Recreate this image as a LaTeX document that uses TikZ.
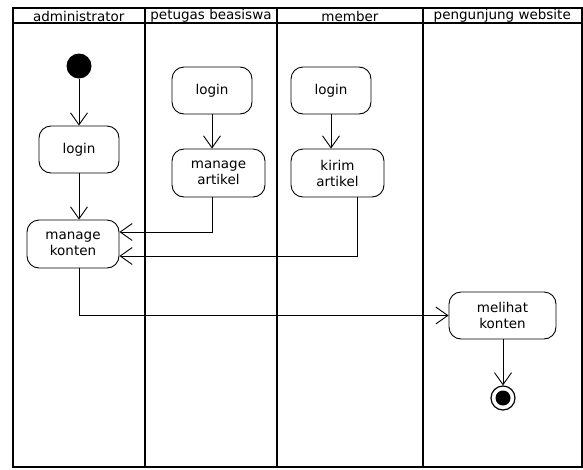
\documentclass[tikz,border=0pt]{standalone}
\usepackage{fontspec}
\setmainfont{DejaVu Sans}
\usetikzlibrary{arrows.meta}
\begin{document}
\begin{tikzpicture}[x=1pt,y=-1pt,
  lane/.style={line width=2pt},
  act/.style={draw, line width=0.9pt, rounded corners=12pt, align=center, inner sep=0pt,
    font=\fontsize{13.5}{16}\selectfont},
  flow/.style={line width=0.9pt, -{Straight Barb[length=12pt,width=17pt,line width=0.9pt]}},
  hdr/.style={font=\fontsize{13.5}{15}\selectfont, inner sep=0pt}]
\useasboundingbox (0,0) rectangle (583,469);
% swimlanes
\draw[lane] (12.5,7.5) rectangle (581.5,466.5);
\draw[lane] (12.5,23) -- (581.5,23);
\draw[lane] (145,7.5) -- (145,466.5);
\draw[lane] (277,7.5) -- (277,466.5);
\draw[lane] (423,7.5) -- (423,466.5);
\node[hdr] (h1) at (78.75,16) {administrator};
\node[hdr] (h2) at (211,16) {petugas beasiswa};
\node[hdr] (h3) at (350,16) {member};
\node[hdr] (h4) at (502.25,16) {pengunjung website};
% nodes
\node[circle, fill=black, minimum size=25pt, inner sep=0pt] (init) at (79,66) {};
\node[act, minimum width=80pt, minimum height=47pt] (login1) at (79,149.5) {login};
\node[act, minimum width=92pt, minimum height=48pt] (mk) at (73,244) {manage\\konten};
\node[act, minimum width=80pt, minimum height=47pt] (login2) at (212,90.5) {login};
\node[act, minimum width=93pt, minimum height=48pt] (ma) at (218.5,173) {manage\\artikel};
\node[act, minimum width=80pt, minimum height=47pt] (login3) at (331,90.5) {login};
\node[act, minimum width=93pt, minimum height=48pt] (ka) at (337.5,173) {kirim\\artikel};
\node[act, minimum width=107pt, minimum height=47pt] (mel) at (502.5,315.5) {melihat\\konten};
\node[circle, draw, line width=1.2pt, minimum size=24pt, inner sep=0pt] (fin) at (503,398) {};
\node[circle, fill=black, minimum size=15pt, inner sep=0pt] (fininner) at (fin.center) {};
% connectors
\draw[flow] (init) -- (login1);
\draw[flow] (login1.south) -- (login1.south |- mk.north);
\draw[flow] (login2.south) -- (login2.south |- ma.north);
\draw[flow] (login3.south) -- (login3.south |- ka.north);
\draw[flow] ([xshift=-6.5pt]ma.south) |- ([yshift=12pt]mk.east);
\draw[flow] ([xshift=20pt]ka.south) |- ([yshift=-12pt]mk.east);
\draw[flow] ([xshift=6pt]mk.south) |- (mel.west);
\draw[flow] (mel.south -| fin.north) -- (fin.north);
\end{tikzpicture}
\end{document}
